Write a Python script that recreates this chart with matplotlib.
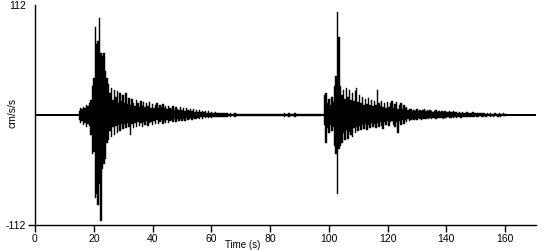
import numpy as np
import matplotlib
matplotlib.use("Agg")
import matplotlib.pyplot as plt

# ---- data ----
dt = 0.5
ev1_start = 15.0
ev1_upper = [
    4, 7, 6, 8, 7, 10, 9, 12, 15, 30,
    38, 90, 72, 75, 99, 63, 60, 63, 45, 38,
    32, 22, 28, 15, 25, 18, 24, 12, 22, 14,
    20, 12, 22, 11, 17, 10, 16, 12, 9, 15,
    12, 8, 14, 9, 13, 8, 12, 9, 13, 7,
    11, 7, 10, 12, 7, 10, 8, 11, 7, 9,
    6, 9, 7, 6, 9, 5, 8, 6, 5, 8,
    5, 7, 4, 7, 5, 4, 6, 4, 6, 3,
    5, 3, 5, 3, 4, 3, 4, 2.5, 4, 2.5,
    3, 2.5, 2, 3, 2, 2, 2.5, 2, 2, 2.5,
    2, 2, 1.5, 2, 1.5, 1.5, 2, 1.5, 1.5, 1.5,
    1.5, 1.5, 1.5, 1.5, 1.5, 1.5, 1.5, 1.5, 1.5, 1.5,
    1.5, 1.5, 1.5, 1.5, 1.5, 1.5, 1.5, 1.5, 1.5, 1.5,
    1, 1, 1, 1, 1, 1, 1, 1, 1, 1,
    2.5, 1, 1, 2.5, 1, 1, 1, 2.5, 1, 1,
    1, 1, 1, 1, 1, 1, 1, 1, 1, 1,
    1, 1, 1, 1, 1, 1,
]
ev1_lower = [
    5, 8, 6, 10, 8, 12, 9, 11, 20, 40,
    38, 85, 80, 92, 70, 108, 55, 50, 45, 28,
    25, 16, 22, 12, 20, 11, 18, 10, 16, 9,
    14, 9, 13, 8, 12, 20, 9, 13, 8, 12,
    7, 11, 8, 12, 7, 10, 6, 11, 8, 7,
    10, 6, 9, 5, 9, 7, 5, 9, 6, 8,
    5, 8, 6, 5, 7, 4, 7, 4, 6, 4,
    6, 4, 6, 3, 5, 4, 3, 5, 3, 4,
    4, 3, 4, 2.5, 4, 2.5, 3, 2.5, 3, 2.5,
    3, 2, 2.5, 2, 2.5, 2, 2, 2.5, 2, 2,
    2, 2, 1.5, 2, 1.5, 1.5, 2, 1.5, 1.5, 1.5,
    1.5, 1.5, 1.5, 1.5, 1.5, 1.5, 1.5, 1.5, 1.5, 1.5,
    1.5, 1.5, 1.5, 1.5, 1.5, 1.5, 1.5, 1.5, 1.5, 1.5,
    1, 1, 1, 1, 1, 1, 1, 1, 1, 1,
    2, 1, 1, 2, 1, 1, 1, 2, 1, 1,
    1, 1, 1, 1, 1, 1, 1, 1, 1, 1,
    1, 1, 1, 1, 1, 1,
]

ev2_start = 98.0
ev2_upper = [
    1, 20, 22, 12, 16, 10, 18, 13, 30, 40,
    105, 79, 30, 20, 25, 16, 27, 18, 25, 15,
    22, 14, 24, 27, 13, 20, 12, 18, 10, 16,
    11, 17, 10, 15, 9, 14, 10, 25, 12, 9,
    14, 8, 12, 7, 13, 8, 12, 14, 7, 11,
    13, 6, 10, 12, 6, 10, 7, 8, 5, 6,
    6, 4, 5, 4, 6, 4, 5, 4, 5, 6,
    4, 5, 4, 5, 4, 3, 4, 5, 3, 4,
    3, 4, 3, 4, 3, 3, 4, 3, 3, 4,
    3, 3, 2, 3, 2, 3, 2, 2, 3, 2,
    2, 2, 3, 2, 2, 2, 2, 2, 2, 2,
    2, 1.5, 2, 1.5, 2, 1.5, 1.5, 2, 1.5, 1.5,
    2, 1.5, 1.5, 2.5, 1, 1,
]
ev2_lower = [
    1, 10, 28, 13, 18, 10, 16, 12, 32, 40,
    80, 35, 32, 28, 18, 25, 15, 24, 17, 20,
    22, 13, 18, 12, 16, 11, 15, 10, 14, 9,
    15, 10, 13, 8, 12, 9, 13, 8, 12, 7,
    11, 14, 7, 10, 6, 11, 7, 6, 10, 12,
    7, 18, 6, 10, 5, 9, 5, 7, 4, 6,
    5, 4, 5, 4, 5, 3, 4, 5, 4, 4,
    4, 3, 4, 3, 4, 3, 3, 4, 3, 3,
    3, 3, 4, 3, 3, 2, 3, 3, 2, 3,
    2, 3, 2, 2, 3, 2, 2, 2, 2, 2,
    2, 2, 2, 2, 1.5, 2, 2, 1.5, 2, 2,
    1.5, 2, 1.5, 1.5, 2, 1.5, 2, 1.5, 1.5, 2,
    1.5, 2, 1.5, 1.5, 1, 1,
]

x_ticks = [0, 20, 40, 60, 80, 100, 120, 140, 160]
y_ticks = [-112, 112]
x_max = 170.4
y_label = "cm/s/s"
x_label = "Time (s)"

plt.rcParams['font.family'] = ['Liberation Sans', 'DejaVu Sans']

fig = plt.figure(figsize=(5.5, 2.5), dpi=100)
ax = fig.add_axes([35 / 550, 25 / 250, (535.7 - 35) / 550, 220 / 250])

# baseline
ax.plot([0, x_max], [0, 0], color='black', lw=1.45, solid_capstyle='butt')

for start, up, lo in [(ev1_start, ev1_upper, ev1_lower), (ev2_start, ev2_upper, ev2_lower)]:
    t = start + dt * np.arange(len(up))
    ax.fill_between(t, -np.array(lo, float), np.array(up, float), step='mid',
                    color='black', lw=0.3, edgecolor='black')

ax.set_xlim(0, x_max)
ax.set_ylim(-112, 112)
ax.set_xticks(x_ticks)
ax.set_yticks(y_ticks)
ax.set_yticklabels([str(v) for v in y_ticks])
for s in ['top', 'right']:
    ax.spines[s].set_visible(False)
for s in ['left', 'bottom']:
    ax.spines[s].set_linewidth(1.0)
ax.tick_params(axis='both', length=5, width=1.0, labelsize=7.5, pad=1.2, colors='black')
ax.yaxis.get_major_ticks()[1].tick1line.set_visible(False)

fig.text(12 / 550, 1 - 113 / 250, y_label, rotation=90, ha='center', va='center', fontsize=7.5)
fig.text(260 / 550, 1 - 249.5 / 250, x_label, ha='right', va='bottom', fontsize=7)

fig.savefig("out.png", dpi=100)
